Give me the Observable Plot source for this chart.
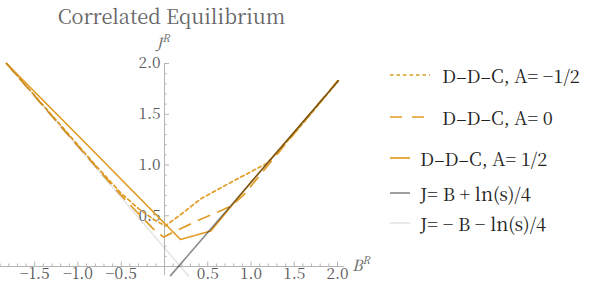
<!DOCTYPE html>
<html><head><meta charset="utf-8">
<script src="https://cdn.jsdelivr.net/npm/d3@7"></script>
<script src="https://cdn.jsdelivr.net/npm/@observablehq/plot@0.6"></script>
<style>
body{margin:0;background:#fff;}
#wrap{position:relative;width:592px;height:295px;overflow:hidden;background:#fff;}
#wrap svg{position:absolute;left:0;top:0;}
.title{position:absolute;left:0;width:343px;top:4px;height:24px;line-height:24px;text-align:center;font-size:20px;color:#666;white-space:nowrap;}
.alab{position:absolute;font-style:italic;font-size:15.5px;line-height:13px;height:13px;color:#666;white-space:nowrap;}
.alab sup{font-size:10.5px;line-height:0;position:relative;top:-1px;}
.leg{position:absolute;left:0;height:20px;white-space:nowrap;font-size:18.3px;color:#222;}
.leg svg{position:absolute;}
.leg span{position:absolute;top:50%;line-height:20px;transform:translateY(-52%);}
</style></head><body><div id="wrap"></div>
<script>
// ---- data ----
const ORANGE = "#e09c24";
// D–D–C, A = -1/2 (dotted)
const dotB = [-1.826, -1.3, -0.8, -0.5, -0.3, -0.12, 0.01, 0.2, 0.42, 0.77, 1.19, 1.5, 1.7, 2.0];
const dotJ = [2.0, 1.49, 1.0, 0.72, 0.57, 0.46, 0.40, 0.52, 0.667, 0.83, 1.02, 1.31, 1.51, 1.82];
// D–D–C, A = 0 (dashed)
const dashB = [-1.826, -1.3, -0.8, -0.5, -0.3, -0.13, -0.01, 0.105, 0.38, 0.65, 0.78, 0.92, 1.2, 1.5, 2.0];
const dashJ = [2.0, 1.48, 0.99, 0.70, 0.52, 0.37, 0.29, 0.34, 0.45, 0.55, 0.60, 0.71, 1.0, 1.31, 1.83];
// D–D–C, A = 1/2 (solid)
const solB = [-1.826, -0.86, 0.105, 0.186, 0.535, 1.0, 2.01];
const solJ = [2.0, 1.17, 0.335, 0.266, 0.35, 0.83, 1.83];
// J = B + ln(s)/4
const grayB = [0.07, 2.01];
const grayJ = [-0.09, 1.83];
// J = -B - ln(s)/4
const lightB = [-1.826, 0.279];
const lightJ = [2.0, -0.095];
// axes / ticks
const xMajor = [-1.5, -1.0, -0.5, 0.5, 1.0, 1.5, 2.0];
const xLabels = ["\u22121.5", "\u22121.0", "\u22120.5", "0.5", "1.0", "1.5", "2.0"];
const yMajor = [0.5, 1.0, 1.5, 2.0];
const yLabels = ["0.5", "1.0", "1.5", "2.0"];
const xAxisExtent = [-1.907, 2.08];
const yAxisExtent = [-0.09, 2.0];
const legendLabels = ["D\u2013D\u2013C, A= \u22121/2", "D\u2013D\u2013C, A= 0", "D\u2013D\u2013C, A= 1/2", "J= B + ln(s)/4", "J= \u2212 B \u2212 ln(s)/4"];

const FONT = "'Noto Serif CJK SC', 'Liberation Serif', serif";
const pts = (B, J) => B.map((b, i) => ({B: b, J: J[i]}));
const xMinor = d3.ticks(-1.9, 2.0, 39).filter(v => Math.abs(v) > 1e-9 && !xMajor.some(m => Math.abs(m - v) < 1e-9));
const yMinor = d3.ticks(0.1, 2.0, 19).filter(v => !yMajor.some(m => Math.abs(m - v) < 1e-9));
const AX = "#b4b4b4";

const chart = Plot.plot({
  width: 592, height: 295,
  marginTop: 0, marginBottom: 0, marginLeft: 0, marginRight: 0,
  x: {domain: [0, 2], range: [164, 337]},
  y: {domain: [0, 2], range: [266, 63]},
  axis: null,
  style: {fontFamily: FONT, fontSize: "15px", background: "transparent", overflow: "visible"},
  marks: [
    // axes
    Plot.ruleY([0], {x1: xAxisExtent[0], x2: xAxisExtent[1], stroke: AX, strokeWidth: 1}),
    Plot.ruleX([0], {y1: yAxisExtent[0], y2: yAxisExtent[1], stroke: AX, strokeWidth: 1}),
    Plot.ruleX(xMajor, {x: d => d, y1: 0, y2: 0, insetTop: -4.5, stroke: AX}),
    Plot.ruleX(xMinor, {x: d => d, y1: 0, y2: 0, insetTop: -2.5, stroke: AX}),
    Plot.ruleY(yMajor, {y: d => d, x1: 0, x2: 0, insetRight: -5, stroke: AX}),
    Plot.ruleY(yMinor, {y: d => d, x1: 0, x2: 0, insetRight: -2.7, stroke: AX}),
    Plot.text(xMajor, {x: d => d, y: 0, dy: 8, text: (d, i) => xLabels[i], fill: "#5a5a5a", fontSize: 15.5, textAnchor: "middle"}),
    Plot.text(yMajor, {x: 0, y: d => d, dx: -4, text: (d, i) => yLabels[i], fill: "#5a5a5a", fontSize: 15.5, textAnchor: "end"}),
    // curves
    Plot.line(pts(dotB, dotJ), {x: "B", y: "J", stroke: ORANGE, strokeWidth: 1.7, strokeDasharray: "3.5,3"}),
    Plot.line(pts(dashB, dashJ), {x: "B", y: "J", stroke: ORANGE, strokeWidth: 1.7, strokeDasharray: "12,9"}),
    Plot.line(pts(solB, solJ), {x: "B", y: "J", stroke: ORANGE, strokeWidth: 1.7}),
    Plot.line(pts(grayB, grayJ), {x: "B", y: "J", stroke: "#000", strokeOpacity: 0.45, strokeWidth: 1.6}),
    Plot.line(pts(lightB, lightJ), {x: "B", y: "J", stroke: "#000", strokeOpacity: 0.1, strokeWidth: 1.6})
  ]
});
chart.querySelectorAll("text").forEach(t => { t.setAttribute("font-family", FONT); t.style.fontFamily = FONT; });
const wrap = document.getElementById("wrap");
wrap.appendChild(chart);

function mk(cls, html, css) {
  const d = document.createElement("div");
  d.className = cls;
  d.innerHTML = html;
  d.style.fontFamily = FONT;
  Object.assign(d.style, css || {});
  wrap.appendChild(d);
  return d;
}
// title & axis labels
mk("title", "Correlated Equilibrium");
mk("alab", "J<sup>R</sup>", {left: "156px", top: "36px"});
mk("alab", "B<sup>R</sup>", {left: "352px", top: "258px"});

// legend
const legItems = [
  {y: 75, sw: 40, tx: 442, color: ORANGE, op: 1, dash: "3.5,3"},
  {y: 117, sw: 35, tx: 442, color: ORANGE, op: 1, dash: "12,10"},
  {y: 158, sw: 20, tx: 420, color: ORANGE, op: 1, dash: null},
  {y: 193, sw: 20, tx: 420, color: "#000", op: 0.45, dash: null},
  {y: 223, sw: 20, tx: 420, color: "#000", op: 0.1, dash: null}
];
legItems.forEach((it, i) => {
  const d = mk("leg", "", {top: (it.y - 10) + "px", width: "592px"});
  const s = d3.create("svg").attr("width", it.sw).attr("height", 20).style("left", "390px").style("top", "0px");
  s.append("line").attr("x1", 0).attr("x2", it.sw).attr("y1", 10).attr("y2", 10)
    .attr("stroke", it.color).attr("stroke-opacity", it.op).attr("stroke-width", 1.7)
    .attr("stroke-dasharray", it.dash);
  d.appendChild(s.node());
  const sp = document.createElement("span");
  sp.style.left = it.tx + "px";
  sp.textContent = legendLabels[i];
  d.appendChild(sp);
});
</script>
</body></html>
